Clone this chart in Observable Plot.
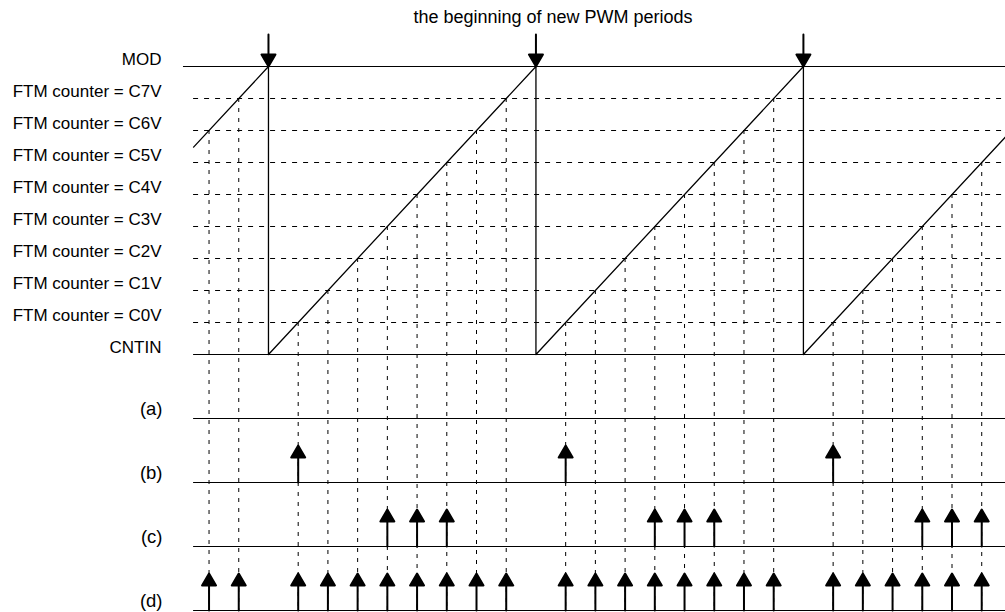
<!DOCTYPE html>
<html>
<head>
<meta charset="utf-8">
<script src="https://cdn.jsdelivr.net/npm/d3@7"></script>
<script src="https://cdn.jsdelivr.net/npm/@observablehq/plot@0.6"></script>
<style>
  html, body { margin: 0; padding: 0; background: #fff; }
  #chart svg { display: block; }
</style>
</head>
<body>
<div id="chart"></div>
<script>
// ---- data (time in counter ticks; one PWM period = 9 ticks; counter CNTIN=0 ... MOD=9) ----
const titleText = "the beginning of new PWM periods";

const levelLabels = ["CNTIN", "FTM counter = C0V", "FTM counter = C1V", "FTM counter = C2V",
  "FTM counter = C3V", "FTM counter = C4V", "FTM counter = C5V", "FTM counter = C6V",
  "FTM counter = C7V", "MOD"];
const levelValues = [0, 1, 2, 3, 4, 5, 6, 7, 8, 9];

const rowLabels = ["(a)", "(b)", "(c)", "(d)"];
const rowBase = [-2, -4, -6, -8];

// beginning of new PWM periods (counter reload)
const periodStarts = [0, 9, 18];

// FTM counter waveform (sawtooth) vertices
const rampT = [-2.52, 0, 0, 9, 9, 18, 18, 24.8];
const rampV = [6.48, 9, 0, 9, 0, 9, 0, 6.8];

// times when the counter matches a channel value, and which level
const matchT = [-2, -1, 1, 2, 3, 4, 5, 6, 7, 8, 10, 11, 12, 13, 14, 15, 16, 17, 19, 20, 21, 22, 23, 24];
const matchLevel = [7, 8, 1, 2, 3, 4, 5, 6, 7, 8, 1, 2, 3, 4, 5, 6, 7, 8, 1, 2, 3, 4, 5, 6];

// trigger events in each row
const eventsA = [];
const eventsB = [1, 10, 19];
const eventsC = [4, 5, 6, 13, 14, 15, 22, 23, 24];
const eventsD = [-2, -1, 1, 2, 3, 4, 5, 6, 7, 8, 10, 11, 12, 13, 14, 15, 16, 17, 19, 20, 21, 22, 23, 24];

const modStartT = -2.86;
const lineStartT = -2.52;
const endT = 24.8;

// ---- build tables ----
const levels = levelLabels.map((label, i) => ({label, v: levelValues[i]}));
const rows = rowLabels.map((label, i) => ({label, v: rowBase[i]}));
const ramp = rampT.map((t, i) => ({t, v: rampV[i]}));
const matches = matchT.map((t, i) => ({t, level: matchLevel[i]}));
const rowEvents = [eventsA, eventsB, eventsC, eventsD].flatMap((ev, i) => ev.map(t => ({t, v: rowBase[i]})));
const topArrows = periodStarts.map(t => ({t, v: 10}));

const arrowShape = {
  draw(ctx, l) {
    const h = 12, w = 7;
    ctx.moveTo(0, 0);
    ctx.lineTo(0, -l + h);
    ctx.moveTo(-w, -l + h);
    ctx.lineTo(0, -l);
    ctx.lineTo(w, -l + h);
    ctx.closePath();
  }
};

const chart = Plot.plot({
  width: 1005,
  height: 612,
  margin: 0,
  x: {domain: [-9.017, 24.8], axis: null},
  y: {domain: [-8.0625, 11.0625], axis: null},
  style: {fontFamily: "'Liberation Sans', Arial, Helvetica, sans-serif", fontSize: "17px", background: "#fff", color: "#000"},
  marks: [
    // dashed compare levels
    Plot.ruleY(levels.filter(d => d.v > 0 && d.v < 9), {y: "v", x1: lineStartT, x2: endT, stroke: "#000", strokeWidth: 1, strokeDasharray: "5,6"}),
    // MOD line
    Plot.ruleY(levels.filter(d => d.v === 9), {y: "v", x1: modStartT, x2: endT, stroke: "#000", strokeWidth: 1.2}),
    // CNTIN line and row baselines
    Plot.ruleY(levels.filter(d => d.v === 0), {y: "v", x1: lineStartT, x2: endT, stroke: "#000", strokeWidth: 1.2}),
    Plot.ruleY(rows, {y: "v", x1: lineStartT, x2: endT, stroke: "#000", strokeWidth: 1.2}),
    // vertical dashed match lines
    Plot.ruleX(matches, {x: "t", y1: "level", y2: rowBase[3], stroke: "#000", strokeWidth: 1, strokeDasharray: "4,6"}),
    // counter sawtooth
    Plot.line(ramp, {x: "t", y: "v", stroke: "#000", strokeWidth: 1.3}),
    // trigger arrows
    Plot.vector(rowEvents, {x: "t", y: "v", length: 37, rotate: 0, anchor: "start", shape: arrowShape, stroke: "#000", fill: "#000", strokeWidth: 2}),
    // period-start arrows
    Plot.vector(topArrows, {x: "t", y: "v", length: 32, rotate: 180, anchor: "start", shape: arrowShape, stroke: "#000", fill: "#000", strokeWidth: 2}),
    // labels
    Plot.text(levels, {y: "v", text: "label", frameAnchor: "left", dx: 161, dy: -7, textAnchor: "end", fill: "#000"}),
    Plot.text(rows, {y: "v", text: "label", frameAnchor: "left", dx: 162, dy: -9, textAnchor: "end", fontSize: 18.5, fill: "#000"}),
    Plot.text([titleText], {frameAnchor: "top", dx: 50, dy: 17, lineAnchor: "middle", fontSize: 18, fill: "#000"})
  ]
});
document.getElementById("chart").append(chart);
</script>
</body>
</html>
